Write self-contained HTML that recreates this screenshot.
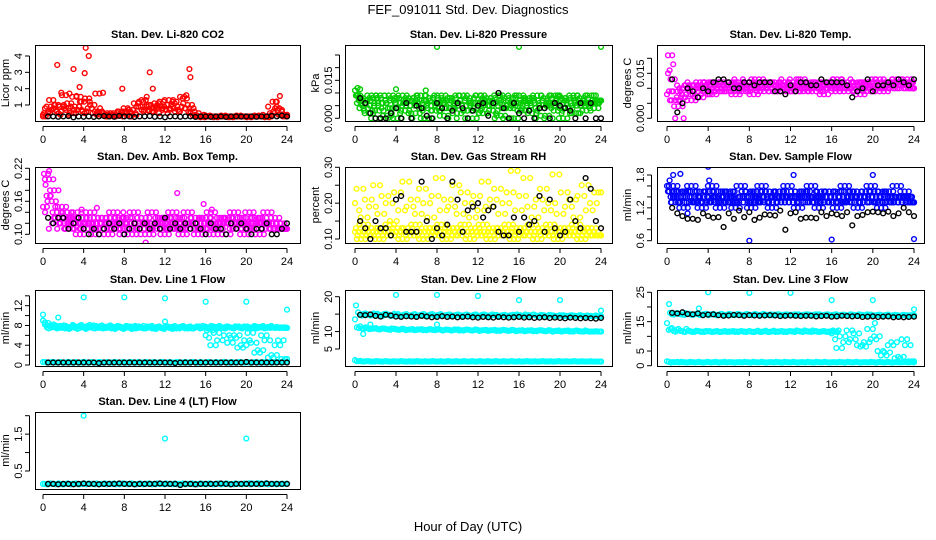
<!DOCTYPE html>
<html><head><meta charset="utf-8"><style>
html,body{margin:0;padding:0;background:#fff;}
svg{display:block;font-family:"Liberation Sans",Arial,sans-serif;}
</style></head><body>
<svg id="chart" width="936" height="540" viewBox="0 0 936 540" xmlns="http://www.w3.org/2000/svg">
<text x="468" y="14" text-anchor="middle" font-size="13">FEF_091011  Std. Dev. Diagnostics</text>
<text x="468" y="531" text-anchor="middle" font-size="13">Hour of Day (UTC)</text>
</svg>
<script>
const hourTicks = [0,4,8,12,16,20,24];
const co2Red = [0.4,0.3,0.5,0.9,1.3,0.7,1.0,0.6,0.9,1.6,0.8,1.1,0.5,1.5,0.9,0.7,1.2,0.6,1.4,0.8,1.0,0.5,1.7,0.6,0.4,0.5,0.3,0.4,0.35,0.5,0.4,0.6,0.5,0.8,0.6,0.7,0.5,1.1,0.9,1.2,1.3,0.7,1.0,0.6,0.8,1.1,0.9,1.2,0.7,1.3,1.0,0.8,1.2,0.6,0.9,1.5,1.4,0.8,1.0,0.6,0.35,0.3,0.3,0.25,0.3,0.35,0.3,0.3,0.25,0.3,0.3,0.35,0.3,0.3,0.25,0.3,0.3,0.35,0.3,0.3,0.3,0.25,0.3,0.3,0.35,0.3,0.3,0.3,0.25,0.3,0.5,1.2,0.8,0.7,0.4,0.3];
const co2RedLow = [0.3,0.6,0.8,0.5,1.0,0.4,0.7,0.9,0.5,1.2,0.6,0.8,0.4,0.5,0.3,0.4,0.6,0.3,0.4,0.7,0.9,0.6,1.0,0.8,0.5,0.9,0.7,1.1,0.6,0.8,0.5,0.4,0.3,0.3,0.3,0.3,0.3,0.3,0.3,0.3,0.3,0.3,0.3,0.3,0.4,0.9,0.6,0.4];
const co2OutH = [1.4,1.8,2.6,3.0,3.6,4.1,4.2,4.5,5.9,7.8,10.5,10.8,14.4,14.5,14.1,23.3,22.9,3.3,3.7,10.2,12.8];
const co2OutV = [3.45,1.75,1.7,3.2,2.1,2.95,4.5,4.0,1.75,2.0,3.0,2.0,3.2,2.7,1.6,1.55,1.2,1.55,1.5,1.5,1.3];
const co2Black = [0.3,0.3,0.28,0.3,0.32,0.25,0.3,0.28,0.3,0.27,0.3,0.32,0.3,0.28,0.33,0.3,0.3,0.27,0.3,0.3,0.32,0.28,0.3,0.25,0.3,0.3,0.28,0.3,0.3,0.27,0.3,0.3,0.28,0.3,0.3,0.27,0.3,0.3,0.29,0.3,0.3,0.28,0.3,0.3,0.33,0.3,0.35,0.3];

const presGreen = [0.011,0.012,0.009,0.008,0.006,0.004,0.007,0.002,0.009,0.005,0.008,0.003,0.006,0.009,0.001,0.007,0.004,0.008,0.0,0.006,0.009,0.003,0.007,0.005,0.008,0.002,0.006,0.009,0.004,0.007,0.0,0.005,0.008,0.003,0.006,0.009,0.001,0.007,0.004,0.008,0.006,0.002,0.009,0.005,0.007,0.003,0.008,0.0,0.006,0.004,0.009,0.002,0.007,0.005,0.008,0.003,0.006,0.009,0.001,0.007,0.004,0.008,0.005,0.0,0.006,0.009,0.003,0.007,0.005,0.008,0.002,0.006,0.009,0.004,0.007,0.001,0.008,0.005,0.006,0.009,0.003,0.007,0.0,0.008,0.004,0.006,0.009,0.002,0.007,0.005,0.008,0.003,0.006,0.009,0.004,0.007];
const presGreen2 = [0.009,0.005,0.007,0.003,0.008,0.006,0.0,0.009,0.004,0.006,0.002,0.008,0.005,0.007,0.0,0.009,0.003,0.006,0.008,0.004,0.007,0.0,0.005,0.009,0.003,0.006,0.008,0.002,0.007,0.005,0.0,0.009,0.004,0.006,0.008,0.003,0.007,0.005,0.0,0.009,0.006,0.004,0.008,0.002,0.007,0.005,0.009,0.006];
const presOutH = [8,16,24,0.5,4.0,6.9,12.3,19.9,0.3];
const presOutV = [0.0282,0.0282,0.0282,0.0115,0.0115,0.011,0.009,0.0085,0.0095];
const presBlack = [0.008,0.006,0.002,0.0,0.0,0.0,0.002,0.004,0.0,0.006,0.0,0.005,0.004,0.001,0.0,0.006,0.004,0.0,0.003,0.006,0.004,0.0,0.003,0.005,0.006,0.001,0.006,0.010,0.004,0.0,0.006,0.002,0.0,0.003,0.0,0.004,0.004,0.0,0.006,0.005,0.004,0.003,0.0,0.006,0.0,0.006,0.0,0.0];

const tempMag = [0.008,0.016,0.021,0.013,0.009,0.006,0.004,0.007,0.010,0.008,0.011,0.006,0.009,0.011,0.007,0.010,0.012,0.009,0.011,0.008,0.012,0.010,0.009,0.011,0.010,0.012,0.009,0.011,0.008,0.012,0.010,0.011,0.009,0.012,0.010,0.008,0.011,0.013,0.010,0.009,0.012,0.011,0.010,0.012,0.009,0.011,0.010,0.012,0.011,0.009,0.012,0.010,0.011,0.013,0.009,0.011,0.010,0.012,0.011,0.009,0.012,0.010,0.008,0.011,0.012,0.010,0.011,0.013,0.009,0.011,0.010,0.012,0.011,0.009,0.010,0.012,0.008,0.011,0.010,0.012,0.009,0.011,0.013,0.010,0.012,0.009,0.011,0.010,0.012,0.011,0.013,0.010,0.012,0.011,0.013,0.010];
const tempMag2 = [0.015,0.018,0.006,0.0,0.009,0.011,0.010,0.012,0.008,0.011,0.012,0.010,0.009,0.012,0.011,0.010,0.013,0.009,0.011,0.010,0.012,0.009,0.011,0.012,0.010,0.013,0.011,0.009,0.012,0.010,0.011,0.012,0.010,0.009,0.011,0.013,0.010,0.012,0.011,0.009,0.012,0.010,0.011,0.013,0.010,0.012,0.011,0.012];
const tempBlack = [0.013,0.002,0.005,0.010,0.009,0.007,0.010,0.009,0.012,0.013,0.013,0.012,0.010,0.010,0.012,0.012,0.011,0.012,0.012,0.012,0.009,0.009,0.008,0.011,0.009,0.012,0.012,0.011,0.011,0.013,0.012,0.012,0.012,0.012,0.011,0.007,0.009,0.010,0.013,0.009,0.011,0.011,0.012,0.011,0.013,0.012,0.011,0.013];

const ambMag = [0.15,0.19,0.21,0.17,0.20,0.16,0.18,0.14,0.13,0.15,0.12,0.14,0.11,0.13,0.12,0.14,0.10,0.13,0.12,0.11,0.14,0.12,0.10,0.13,0.12,0.11,0.13,0.10,0.12,0.14,0.11,0.13,0.12,0.10,0.13,0.11,0.12,0.14,0.10,0.12,0.13,0.11,0.12,0.10,0.14,0.12,0.11,0.13,0.12,0.10,0.13,0.11,0.14,0.12,0.11,0.13,0.10,0.12,0.14,0.11,0.12,0.13,0.10,0.12,0.11,0.13,0.12,0.14,0.10,0.12,0.11,0.13,0.12,0.10,0.13,0.12,0.14,0.11,0.12,0.13,0.10,0.12,0.14,0.11,0.13,0.12,0.10,0.13,0.12,0.14,0.11,0.12,0.13,0.11,0.12,0.11];
const ambMag2 = [0.14,0.17,0.15,0.12,0.11,0.13,0.12,0.11,0.13,0.12,0.11,0.12,0.13,0.11,0.12,0.12,0.11,0.13,0.11,0.12,0.12,0.11,0.13,0.12,0.11,0.12,0.13,0.11,0.12,0.11,0.13,0.12,0.12,0.11,0.13,0.12,0.11,0.12,0.13,0.12,0.11,0.12,0.13,0.12,0.11,0.12,0.12,0.11];
const ambOutH = [13.2,15.8,16.6,5.3,3.8,10.1,0.6,7.9];
const ambOutV = [0.175,0.155,0.145,0.148,0.145,0.085,0.215,0.14];
const ambBlack = [0.13,0.12,0.13,0.13,0.11,0.12,0.13,0.11,0.10,0.11,0.10,0.11,0.12,0.11,0.12,0.10,0.11,0.12,0.11,0.12,0.11,0.12,0.11,0.13,0.11,0.12,0.11,0.12,0.11,0.12,0.11,0.10,0.12,0.11,0.11,0.10,0.12,0.11,0.12,0.11,0.10,0.11,0.11,0.12,0.10,0.10,0.11,0.12];

const rhLow = [0.12,0.11,0.13,0.12,0.10,0.14,0.11,0.12,0.13,0.11,0.12,0.10,0.13,0.12,0.11,0.14,0.12,0.11,0.13,0.12,0.10,0.12,0.13,0.11,0.12,0.14,0.11,0.12,0.10,0.13,0.12,0.11,0.13,0.12,0.11,0.14,0.12,0.10,0.13,0.11,0.12,0.13,0.12,0.11,0.14,0.12,0.10,0.12,0.13,0.11,0.12,0.14,0.11,0.12,0.10,0.13,0.12,0.11,0.13,0.12,0.11,0.14,0.12,0.10,0.13,0.11,0.12,0.13,0.12,0.11,0.14,0.12,0.10,0.12,0.13,0.11,0.12,0.14,0.11,0.12,0.10,0.13,0.12,0.11,0.13,0.12,0.11,0.14,0.12,0.10,0.13,0.11,0.12,0.13,0.12,0.11];
const rhHigh = [0.20,0.18,0.24,0.16,0.21,0.19,0.25,0.17,0.22,0.20,0.15,0.23,0.18,0.26,0.19,0.21,0.17,0.24,0.20,0.16,0.22,0.27,0.18,0.21,0.19,0.25,0.17,0.23,0.20,0.16,0.22,0.18,0.26,0.19,0.21,0.24,0.17,0.20,0.23,0.29,0.18,0.22,0.27,0.19,0.16,0.21,0.24,0.18,0.20,0.28,0.17,0.23,0.19,0.21,0.16,0.22,0.25,0.18,0.20,0.23];
const rhBlack = [0.15,0.13,0.10,0.15,0.13,0.13,0.11,0.21,0.22,0.12,0.12,0.12,0.26,0.15,0.10,0.13,0.11,0.14,0.26,0.21,0.12,0.18,0.19,0.20,0.16,0.18,0.19,0.12,0.11,0.11,0.16,0.12,0.16,0.14,0.15,0.22,0.12,0.21,0.13,0.11,0.12,0.21,0.15,0.13,0.27,0.24,0.15,0.13];

const flowBlue = [1.6,1.7,1.5,1.4,1.6,1.3,1.5,1.4,1.2,1.5,1.3,1.6,1.4,1.3,1.5,1.2,1.4,1.3,1.5,1.6,1.3,1.4,1.2,1.5,1.3,1.4,1.5,1.3,1.2,1.4,1.6,1.3,1.5,1.4,1.2,1.3,1.5,1.4,1.6,1.3,1.4,1.5,1.2,1.4,1.3,1.5,1.4,1.3,1.6,1.4,1.3,1.5,1.2,1.4,1.3,1.5,1.4,1.6,1.3,1.4,1.2,1.5,1.3,1.4,1.5,1.3,1.4,1.2,1.5,1.3,1.6,1.4,1.3,1.5,1.4,1.2,1.4,1.3,1.5,1.4,1.6,1.3,1.4,1.5,1.2,1.4,1.3,1.5,1.4,1.3,1.6,1.4,1.3,1.5,1.4,1.3];
const flowBlue2 = [1.5,1.4,1.3,1.5,1.4,1.3,1.4,1.5,1.3,1.4,1.5,1.3,1.4,1.3,1.5,1.4,1.3,1.4,1.5,1.3,1.4,1.3,1.5,1.4,1.3,1.4,1.5,1.4,1.3,1.4,1.5,1.3,1.4,1.4,1.3,1.5,1.4,1.3,1.4,1.5,1.3,1.4,1.5,1.3,1.4,1.3,1.4,1.4];
const flowOutH = [4.0,8.0,16.0,24.0,20.0,1.3,0.6,12.3,4.1,2.0];
const flowOutV = [1.95,0.6,0.62,0.63,1.8,1.82,1.8,1.8,1.7,1.1];
const flowBlack = [1.2,1.1,1.05,1.0,1.0,0.98,1.1,1.05,1.02,1.03,0.85,1.1,1.0,1.15,1.03,1.12,0.98,1.02,1.08,1.07,1.06,1.15,0.8,1.1,1.12,1.0,1.02,1.02,1.01,1.12,1.05,1.1,1.08,1.05,1.12,0.88,1.05,1.07,1.12,1.13,1.12,1.1,1.13,1.05,1.1,1.2,1.12,1.05];

const l1Band = [9.0,8.5,8.2,7.8,8.0,7.6,7.9,7.5,7.7,8.1,7.4,7.8,7.6,8.0,7.5,7.7,7.9,7.4,7.8,7.6,7.5,7.9,7.7,7.4,7.8,7.6,7.5,7.9,7.7,7.4,7.8,7.6,7.5,7.7,7.9,7.4,7.6,7.8,7.5,7.7,7.4,7.8,7.6,7.5,7.9,7.7,7.6,7.5];
const l1Band2 = [8.6,8.0,7.6,7.9,7.4,7.7,7.5,7.8,7.3,7.6,7.9,7.5,7.7,7.4,7.8,7.5,7.6,7.3,7.7,7.5,7.8,7.4,7.6,7.5,7.7,7.3,7.6,7.8,7.4,7.5,7.7,7.6,7.4,7.8,7.5,7.6,7.7,7.4,7.6,7.8,7.5,7.7,7.6,7.4,7.7,7.5,7.6,7.6];
const l1Drop = [6.0,5.5,7.0,4.0,6.5,5.0,7.5,6.0,4.5,5.5,6.0,3.5,4.0,5.0,6.5,4.5,2.5,3.0,6.0,5.0,1.5,2.0,4.0,5.0,1.2];
const l1Low = [0.6,0.5,0.6,0.5,0.5,0.6,0.5,0.5,0.6,0.5,0.5,0.6,0.5,0.5,0.6,0.5,0.5,0.6,0.5,0.5,0.6,0.5,0.5,0.6,0.5,0.5,0.6,0.5,0.5,0.6,0.5,0.5,0.6,0.5,0.5,0.6,0.5,0.5,0.6,0.5,0.5,0.6,0.5,0.5,0.6,0.5,0.5,0.6];
const l1OutH = [4,8,12,16,20,24,0,1.5,12];
const l1OutV = [13.7,13.7,13.5,12.8,12.8,11.2,10.2,9.6,8.8];
const l1Black = [0.5,0.5,0.5,0.5,0.5,0.5,0.5,0.5,0.5,0.5,0.4,0.5,0.5,0.5,0.5,0.5,0.5,0.5,0.5,0.5,0.5,0.5,0.5,0.5,0.5,0.4,0.5,0.5,0.5,0.5,0.5,0.5,0.5,0.5,0.5,0.5,0.5,0.5,0.5,0.6,0.5,0.5,0.5,0.5,0.5,0.5,0.5,0.5];

const l2Upper = [15.5,15.0,14.8,15.2,14.6,15.0,14.7,15.1,14.5,14.9,14.6,15.0,14.7,14.5,14.9,14.6,15.0,14.7,14.5,14.8,14.6,14.9,14.5,14.7,14.8,14.5,14.9,14.6,14.7,14.5,14.8,14.6,14.5,14.7,14.9,14.5,14.6,14.8,14.5,14.7,14.4,14.6,14.5,14.7,14.4,14.5,14.6,14.4];
const l2Mid = [13.5,11.5,11.2,10.9,11.0,10.8,10.7,10.9,10.6,10.8,10.5,10.7,10.6,10.4,10.6,10.5,10.7,10.4,10.5,10.6,10.3,10.5,10.4,10.6,10.3,10.5,10.4,10.2,10.4,10.3,10.5,10.2,10.4,10.3,10.1,10.3,10.2,10.4,10.1,10.3,10.2,10.0,10.2,10.1,10.3,10.0,10.1,10.0];
const l2Low = [1.8,1.6,1.5,1.4,1.5,1.4,1.5,1.4,1.4,1.5,1.4,1.4,1.5,1.4,1.4,1.5,1.4,1.4,1.5,1.4,1.4,1.5,1.4,1.4,1.5,1.4,1.4,1.5,1.4,1.4,1.5,1.4,1.4,1.5,1.4,1.4,1.5,1.4,1.4,1.5,1.4,1.4,1.5,1.4,1.4,1.5,1.4,1.4];
const l2OutH = [4,8,12,16,20,24,0.1,0.8,1.5,8];
const l2OutV = [20.5,20.5,20.2,19.0,19.0,16.0,17.5,9.3,12.0,12.0];
const l2Black = [14.8,14.7,14.9,14.5,14.3,14.8,14.6,14.3,14.2,14.4,14.3,14.2,14.5,14.3,14.1,14.2,14.4,14.2,14.3,14.1,14.2,14.3,14.1,14.0,14.2,14.1,14.0,14.2,14.1,14.0,14.1,14.2,14.0,14.1,13.9,14.0,14.1,13.9,14.0,13.9,13.8,14.0,13.9,13.8,13.9,13.8,13.7,13.9];

const l3Upper = [18.0,17.8,17.5,17.9,17.4,17.6,17.3,17.7,17.5,17.2,17.6,17.4,17.3,17.6,17.2,17.5,17.4,17.3,17.6,17.2,17.4,17.5,17.3,17.2,17.5,17.3,17.4,17.2,17.5,17.3,17.4,17.2,17.5,17.3,17.1,17.4,17.2,17.3,17.5,17.2,17.3,17.1,17.4,17.2,17.1,17.3,17.0,17.2];
const l3Mid = [14.5,12.8,12.2,11.8,12.5,11.6,11.9,11.5,11.8,11.6,11.7,11.5,11.8,11.6,11.5,11.7,11.6,11.8,11.5,11.6,11.7,11.5,11.9,11.6,11.5,11.7,11.6,11.8,11.5,11.7,12.0,11.6,11.7,11.5,11.8,11.6];
const l3Drop = [11.0,9.0,12.0,6.0,10.0,8.0,12.0,9.0,11.0,7.0,6.5,8.0,12.5,9.0,10.0,5.0,3.5,4.5,7.0,8.0,2.5,3.0,9.0,7.0,1.5];
const l3Low = [1.5,1.2,1.3,1.2,1.1,1.2,1.3,1.1,1.2,1.2,1.1,1.3,1.2,1.1,1.2,1.2,1.1,1.2,1.3,1.1,1.2,1.2,1.1,1.2,1.3,1.1,1.2,1.2,1.1,1.2,1.3,1.1,1.2,1.2,1.1,1.2,1.3,1.1,1.2,1.2,1.1,1.2,1.3,1.1,1.2,1.2,1.1,1.2];
const l3OutH = [4,8,12,16,20,24,0.2,3.1,20.2];
const l3OutV = [25,24.8,24.8,22.3,22.3,19.2,21.0,19.5,14.5];
const l3Black = [18.0,17.8,18.2,17.6,17.5,17.8,17.2,17.4,17.5,17.2,17.0,17.1,17.3,17.2,17.0,17.2,17.1,17.0,17.1,17.2,17.1,16.9,17.0,17.1,17.0,16.9,17.0,17.0,16.8,16.9,17.0,16.7,16.8,17.0,16.9,16.8,16.9,16.6,16.7,16.8,16.6,16.7,16.8,16.5,16.6,16.5,16.6,16.7];

const l4Cyan = [0.15,0.14,0.15,0.16,0.14,0.15,0.15,0.14,0.16,0.15,0.14,0.15,0.16,0.15,0.14,0.15,0.15,0.16,0.14,0.15,0.15,0.14,0.16,0.15,0.15,0.14,0.15,0.16,0.15,0.14,0.15,0.15,0.16,0.14,0.15,0.15,0.14,0.16,0.15,0.15,0.14,0.15,0.16,0.17,0.15,0.14,0.15,0.15];
const l4OutH = [4,12,20];
const l4OutV = [2.0,1.38,1.38];
const l4Black = [0.15,0.15,0.14,0.15,0.15,0.14,0.15,0.16,0.15,0.15,0.14,0.15,0.15,0.15,0.16,0.15,0.15,0.14,0.15,0.15,0.15,0.15,0.16,0.15,0.15,0.15,0.12,0.15,0.15,0.14,0.15,0.15,0.15,0.15,0.16,0.15,0.14,0.15,0.15,0.15,0.15,0.15,0.15,0.16,0.15,0.15,0.15,0.15];

const svg = document.getElementById('chart');
const NS = 'http://www.w3.org/2000/svg';
function mk(tag, attrs, parent){const e=document.createElementNS(NS,tag);for(const k in attrs)e.setAttribute(k,attrs[k]);(parent||svg).appendChild(e);return e;}

const cols=[{l:35,r:300,h0:43,h24:287},{l:345,r:612,h0:355,h24:601},{l:657,r:924,h0:667,h24:914}];
const rows=[{t:45,b:121},{t:167,b:243},{t:290,b:366},{t:412,b:489}];

function panel(p){
  const c=cols[p.col], rw=rows[p.row];
  const g=mk('g',{});
  
  
  const xs=h=>c.h0+(c.h24-c.h0)*h/24;
  const ys=v=>p.py1+(v-p.v1)*(p.py2-p.py1)/(p.v2-p.v1);
  const clip='clip-'+p.name;
  const cp=mk('clipPath',{id:clip},g); mk('rect',{x:c.l,y:rw.t,width:c.r-c.l,height:rw.b-rw.t},cp);
  const pts=mk('g',{'clip-path':'url(#'+clip+')'},g);
  function draw(vals,t0,t1,color,nm,rep){
    const n=vals.length;
    const step=n>1?(t1-t0)/(n-1):0;
    for(let k=0;k<(rep||1);k++){
      const shift=k*step*0.37;
      for(let i=0;i<n;i++){
        const v=vals[Math.min(i+k*2,n-1)];
        const h=Math.min(t0+shift+step*i,t1);
        const el=mk('circle',{cx:xs(h),cy:ys(v),r:2.4,fill:'none',stroke:color,'stroke-width':1.4},pts);
        
        
      }
    }
  }
  p.series.forEach(s=>draw(s.vals,s.t0,s.t1,s.color,s.nm,s.rep));
  if(p.outH) p.outH.forEach((h,i)=>{
    const el=mk('circle',{cx:xs(h),cy:ys(p.outV[i]),r:2.4,fill:'none',stroke:p.outColor,'stroke-width':1.4},pts);
    
    });
  p.black.forEach((v,i)=>{const h=0.5+23.5*i/(p.black.length-1);
    const el=mk('circle',{cx:xs(h),cy:ys(v),r:2.4,fill:'none',stroke:'#000','stroke-width':1.4},pts);
    
    });
  const box=mk('rect',{x:c.l+0.5,y:rw.t+0.5,width:c.r-c.l,height:rw.b-rw.t,fill:'none',stroke:'#000','stroke-width':1},g);
  
  
  mk('line',{x1:xs(0),x2:xs(24),y1:rw.b+5.5,y2:rw.b+5.5,stroke:'#000'},g);
  hourTicks.forEach(h=>{mk('line',{x1:xs(h),x2:xs(h),y1:rw.b+5.5,y2:rw.b+10,stroke:'#000'},g);
    const t=mk('text',{x:xs(h),y:rw.b+22,'text-anchor':'middle','font-size':11},g);t.textContent=h;
    
    });
  const yt=p.ticks;
  mk('line',{x1:c.l-5.5,x2:c.l-5.5,y1:ys(yt[0]),y2:ys(yt[yt.length-1]),stroke:'#000'},g);
  yt.forEach((v,i)=>{mk('line',{x1:c.l-10,x2:c.l-5.5,y1:ys(v),y2:ys(v),stroke:'#000'},g);
    if(p.labels[i]){const x=c.l-13,y=ys(v);
      const t=mk('text',{x:x,y:y,'text-anchor':'middle','font-size':11,transform:'rotate(-90 '+x+' '+y+')'},g);t.textContent=p.labels[i];
      
      }});
  const yx=c.l-26, yy=(rw.t+rw.b)/2;
  const yl=mk('text',{x:yx,y:yy,'text-anchor':'middle','font-size':11,transform:'rotate(-90 '+yx+' '+yy+')'},g);yl.textContent=p.ylab;
  
  
  const tt=mk('text',{x:(c.l+c.r)/2,y:rw.t-7,'text-anchor':'middle','font-size':11,'font-weight':'bold'},g);tt.textContent=p.title;
  
  
}

panel({name:'co2-panel',col:0,row:0,v1:4,py1:56,v2:1,py2:105,ticks:[1,2,3,4],labels:['1','2','3','4'],title:'Stan. Dev. Li-820 CO2',ylab:'Licor ppm',
  series:[{vals:co2RedLow,t0:0,t1:24,color:'#ff0000',nm:'co2-point',rep:2},{vals:co2Red,t0:0,t1:24,color:'#ff0000',nm:'co2-point',rep:2}],outH:co2OutH,outV:co2OutV,outColor:'#ff0000',black:co2Black});
panel({name:'pressure-panel',col:1,row:0,v1:0,py1:118.3,v2:0.025,py2:55,ticks:[0,0.005,0.01,0.015,0.02,0.025],labels:['0.000','','','0.015','',''],title:'Stan. Dev. Li-820 Pressure',ylab:'kPa',
  series:[{vals:presGreen,t0:0,t1:24,color:'#00cc00',nm:'pressure-point',rep:3},{vals:presGreen2,t0:0.2,t1:23.8,color:'#00cc00',nm:'pressure-point',rep:3}],outH:presOutH,outV:presOutV,outColor:'#00cc00',black:presBlack});
panel({name:'temp-panel',col:2,row:0,v1:0,py1:118.3,v2:0.015,py2:73.3,ticks:[0,0.005,0.01,0.015,0.02],labels:['0.000','','','0.015',''],title:'Stan. Dev. Li-820 Temp.',ylab:'degrees C',
  series:[{vals:tempMag,t0:0,t1:24,color:'#ff00ff',nm:'temp-point',rep:3},{vals:tempMag2,t0:0.1,t1:23.9,color:'#ff00ff',nm:'temp-point',rep:3}],black:tempBlack});
panel({name:'amb-temp-panel',col:0,row:1,v1:0.22,py1:168.3,v2:0.10,py2:234.3,ticks:[0.10,0.12,0.14,0.16,0.18,0.20,0.22],labels:['0.10','','','0.16','','','0.22'],title:'Stan. Dev. Amb. Box Temp.',ylab:'degrees C',
  series:[{vals:ambMag,t0:0,t1:24,color:'#ff00ff',nm:'amb-point',rep:3},{vals:ambMag2,t0:0.2,t1:23.9,color:'#ff00ff',nm:'amb-point',rep:3}],outH:ambOutH,outV:ambOutV,outColor:'#ff00ff',black:ambBlack});
panel({name:'rh-panel',col:1,row:1,v1:0.30,py1:167.3,v2:0.10,py2:239,ticks:[0.10,0.15,0.20,0.25,0.30],labels:['0.10','','0.20','','0.30'],title:'Stan. Dev. Gas Stream RH',ylab:'percent',
  series:[{vals:rhLow,t0:0,t1:24,color:'#ffff00',nm:'rh-point',rep:3},{vals:rhHigh,t0:0,t1:24,color:'#ffff00',nm:'rh-point',rep:2}],black:rhBlack});
panel({name:'sample-flow-panel',col:2,row:1,v1:1.8,py1:175,v2:0.6,py2:240.7,ticks:[0.6,0.8,1.0,1.2,1.4,1.6,1.8],labels:['0.6','','','1.2','','','1.8'],title:'Stan. Dev. Sample Flow',ylab:'ml/min',
  series:[{vals:flowBlue,t0:0,t1:24,color:'#0000ff',nm:'flow-point',rep:3},{vals:flowBlue2,t0:0.2,t1:23.8,color:'#0000ff',nm:'flow-point',rep:3}],outH:flowOutH,outV:flowOutV,outColor:'#0000ff',black:flowBlack});
panel({name:'line1-panel',col:0,row:2,v1:12,py1:305.7,v2:0,py2:365,ticks:[0,2,4,6,8,10,12,14],labels:['0','','4','','8','','12',''],title:'Stan. Dev. Line 1 Flow',ylab:'ml/min',
  series:[{vals:l1Band,t0:0,t1:24,color:'#00ffff',nm:'line1-point',rep:3},{vals:l1Band2,t0:0.2,t1:23.8,color:'#00ffff',nm:'line1-point',rep:3},{vals:l1Drop,t0:16,t1:24,color:'#00ffff',nm:'line1-point',rep:2},{vals:l1Low,t0:0,t1:24,color:'#00ffff',nm:'line1-point',rep:3}],outH:l1OutH,outV:l1OutV,outColor:'#00ffff',black:l1Black});
panel({name:'line2-panel',col:1,row:2,v1:20,py1:296.7,v2:5,py2:349,ticks:[5,10,15,20],labels:['5','10','','20'],title:'Stan. Dev. Line 2 Flow',ylab:'ml/min',
  series:[{vals:l2Upper,t0:0.3,t1:24,color:'#00ffff',nm:'line2-point',rep:3},{vals:l2Mid,t0:0,t1:24,color:'#00ffff',nm:'line2-point',rep:3},{vals:l2Low,t0:0,t1:24,color:'#00ffff',nm:'line2-point',rep:3}],outH:l2OutH,outV:l2OutV,outColor:'#00ffff',black:l2Black});
panel({name:'line3-panel',col:2,row:2,v1:25,py1:292.3,v2:0,py2:365.7,ticks:[0,5,10,15,20,25],labels:['0','5','','15','','25'],title:'Stan. Dev. Line 3 Flow',ylab:'ml/min',
  series:[{vals:l3Upper,t0:0.3,t1:24,color:'#00ffff',nm:'line3-point',rep:3},{vals:l3Mid,t0:0,t1:16.5,color:'#00ffff',nm:'line3-point',rep:3},{vals:l3Drop,t0:16,t1:24,color:'#00ffff',nm:'line3-point',rep:2},{vals:l3Low,t0:0,t1:24,color:'#00ffff',nm:'line3-point',rep:3}],outH:l3OutH,outV:l3OutV,outColor:'#00ffff',black:l3Black});
panel({name:'line4-panel',col:0,row:3,v1:2.0,py1:415.7,v2:0.5,py2:471,ticks:[0.5,1.0,1.5,2.0],labels:['0.5','','1.5',''],title:'Stan. Dev. Line 4 (LT) Flow',ylab:'ml/min',
  series:[{vals:l4Cyan,t0:0,t1:24,color:'#00ffff',nm:'line4-point',rep:3}],outH:l4OutH,outV:l4OutV,outColor:'#00ffff',black:l4Black});
</script>
</body></html>
